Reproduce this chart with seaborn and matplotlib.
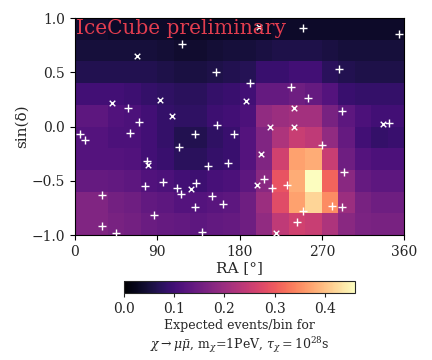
import matplotlib
matplotlib.use("Agg")
import matplotlib.pyplot as plt
import seaborn as sns
import pandas as pd
import numpy as np

# expected events per bin, rows from sin(dec) = -1 (bottom) to +1 (top), 20 RA bins each
ra_edges = np.linspace(0, 360, 21)
sindec_edges = np.linspace(-1, 1, 11)
expected = [
    [0.17, 0.17, 0.16, 0.155, 0.145, 0.14, 0.135, 0.13, 0.135, 0.14, 0.15, 0.19, 0.24, 0.26, 0.25, 0.22, 0.18, 0.165, 0.16, 0.16],
    [0.17, 0.17, 0.155, 0.15, 0.135, 0.13, 0.12, 0.12, 0.125, 0.13, 0.15, 0.2, 0.28, 0.37, 0.42, 0.35, 0.2, 0.16, 0.15, 0.15],
    [0.14, 0.14, 0.135, 0.13, 0.115, 0.11, 0.1, 0.095, 0.105, 0.11, 0.13, 0.18, 0.29, 0.38, 0.46, 0.31, 0.18, 0.14, 0.13, 0.13],
    [0.12, 0.12, 0.12, 0.115, 0.1, 0.09, 0.075, 0.075, 0.085, 0.09, 0.12, 0.17, 0.26, 0.37, 0.38, 0.25, 0.15, 0.12, 0.11, 0.11],
    [0.12, 0.12, 0.11, 0.11, 0.1, 0.085, 0.065, 0.065, 0.08, 0.09, 0.12, 0.17, 0.22, 0.25, 0.24, 0.19, 0.14, 0.1, 0.085, 0.09],
    [0.13, 0.13, 0.115, 0.11, 0.1, 0.085, 0.08, 0.08, 0.095, 0.1, 0.11, 0.19, 0.2, 0.21, 0.21, 0.16, 0.13, 0.11, 0.1, 0.1],
    [0.1, 0.1, 0.1, 0.095, 0.085, 0.08, 0.075, 0.075, 0.085, 0.09, 0.1, 0.14, 0.14, 0.15, 0.14, 0.12, 0.09, 0.085, 0.085, 0.085],
    [0.065, 0.065, 0.065, 0.065, 0.065, 0.06, 0.055, 0.055, 0.06, 0.065, 0.07, 0.09, 0.09, 0.1, 0.1, 0.075, 0.065, 0.06, 0.06, 0.06],
    [0.05, 0.05, 0.05, 0.05, 0.05, 0.045, 0.04, 0.04, 0.045, 0.05, 0.05, 0.055, 0.06, 0.06, 0.06, 0.055, 0.05, 0.05, 0.05, 0.05],
    [0.04, 0.04, 0.035, 0.035, 0.035, 0.035, 0.03, 0.03, 0.03, 0.03, 0.03, 0.03, 0.035, 0.035, 0.035, 0.035, 0.035, 0.035, 0.035, 0.035],
]

# observed events (two samples: x and +)
x_ra = [67.3, 40.7, 92.7, 106, 201.8, 187.3, 240, 337, 213.8, 240, 80, 126.5, 203.6, 198.9, 219.5]
x_sindec = [0.65, 0.22, 0.245, 0.10, 0.92, 0.235, 0.17, 0.02, -0.005, -0.005, -0.355, -0.575, -0.253, -0.54, -0.98]

p_ra = [117, 154.5, 57.5, 70.5, 155, 249.8, 355, 289, 192, 236.4, 254.5, 292.7, 343.6,
        5.5, 10.9, 60.7, 131, 173.5, 113.5, 78.9, 145.8, 167.6, 96.4, 77, 111.6, 116.4,
        132.7, 150.2, 162.2, 29.5, 131.6, 86.5, 29.8, 138.5, 44.5, 270.2, 293.8, 207.3,
        215.6, 232, 280.7, 292.7, 249.8, 242.5]
p_sindec = [0.76, 0.505, 0.17, 0.045, 0.01, 0.91, 0.85, 0.53, 0.40, 0.36, 0.26, 0.14, 0.03,
            -0.07, -0.125, -0.057, -0.07, -0.07, -0.19, -0.315, -0.36, -0.34, -0.51, -0.55, -0.57, -0.62,
            -0.52, -0.64, -0.71, -0.635, -0.745, -0.815, -0.917, -0.975, -0.985, -0.17, -0.42, -0.48,
            -0.57, -0.54, -0.73, -0.74, -0.78, -0.877]

sns.set_theme(style="ticks")
plt.rcParams["font.family"] = ["DejaVu Serif"]
plt.rcParams["mathtext.fontset"] = "dejavuserif"

fig = plt.figure(figsize=(4.32, 3.6), dpi=100)
ax = fig.add_axes([0.1736, 0.347, 0.7616, 0.603])
cax = fig.add_axes([0.287, 0.186, 0.535, 0.033])

mesh = ax.pcolormesh(ra_edges, sindec_edges, np.array(expected), cmap="magma", vmin=0, vmax=0.46)

sns.scatterplot(x=x_ra, y=x_sindec, marker="x", color="white", s=16, linewidth=1, ax=ax, zorder=3)
sns.scatterplot(x=p_ra, y=p_sindec, marker="+", color="white", s=36, linewidth=1, ax=ax, zorder=3)

ax.set_xlim(0, 360)
ax.set_ylim(-1, 1)
ax.set_xticks([0, 90, 180, 270, 360])
ax.set_yticks([-1.0, -0.5, 0.0, 0.5, 1.0])
ax.tick_params(labelsize=10, length=3.5, width=0.8, color="black")
ax.set_xlabel("RA [°]", fontsize=11, labelpad=2)
ax.set_ylabel("sin(δ)", fontsize=11, labelpad=2)
for s in ax.spines.values():
    s.set_visible(True)
    s.set_color("black")
    s.set_linewidth(0.8)

ax.text(0.003, 0.997, "IceCube preliminary", transform=ax.transAxes, ha="left", va="top",
        fontsize=14.5, color="#e23d4f")

cb = fig.colorbar(mesh, cax=cax, orientation="horizontal", ticks=[0.0, 0.1, 0.2, 0.3, 0.4])
cb.ax.tick_params(labelsize=10, length=3, width=0.8)
cb.outline.set_linewidth(0.8)
cb.set_label("Expected events/bin for\n"
             r"$\chi\rightarrow\mu\bar{\mu}$, m$_\chi$=1PeV, $\tau_\chi=10^{28}$s",
             fontsize=9, labelpad=2)

fig.savefig("out.png", dpi=100)
